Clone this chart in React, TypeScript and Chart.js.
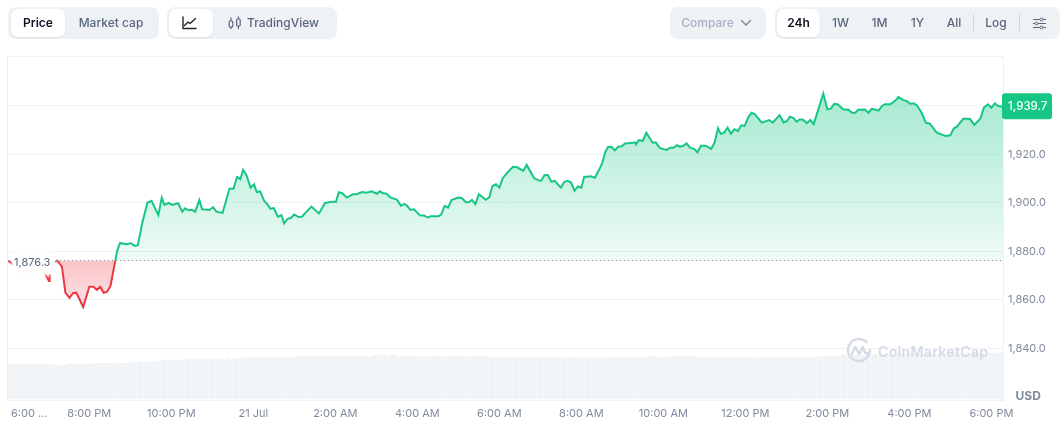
import React, { useEffect, useRef } from "react";
import { Chart, registerables } from "chart.js";

Chart.register(...registerables);

const baseline = 1876.3;
const latest = 1939.7;

// minutes since the start of the 24h window
const minutes = [
  0,3,10,15,25,35,40,50,54,60,61,64,66,72,79,84,90,95,100,110,119,125,130,135,140,145,150,157,160,164,
  173,180,185,190,196,204,210,220,225,229,235,240,249,255,259,264,269,274,280,284,295,300,305,314,324,330,335,340,344,349,
  355,360,364,369,375,379,384,389,395,400,404,409,414,419,425,430,444,455,464,474,480,484,489,496,505,510,518,525,532,540,
  544,549,554,560,569,575,580,583,589,594,603,609,614,619,630,634,639,644,649,659,664,670,675,679,684,689,699,704,709,714,
  719,724,730,739,745,754,759,770,775,780,785,790,795,800,809,814,819,824,829,834,839,843,853,859,869,874,878,883,888,893,
  898,903,918,919,923,929,934,943,948,954,964,969,974,979,983,988,993,998,1004,1009,1014,1021,1029,1034,1039,1043,1048,1053,1058,1063,
  1068,1073,1078,1083,1088,1093,1103,1114,1119,1129,1135,1140,1144,1149,1154,1159,1164,1169,1174,1179,1193,1199,1204,1209,1214,1222,1230,1235,1240,1244,
  1254,1259,1264,1274,1279,1283,1291,1298,1303,1310,1315,1320,1325,1330,1337,1343,1349,1359,1372,1379,1384,1388,1398,1408,1414,1423,1428,1434,1439,1444,
  1449,1456,
];

const prices = [
  1876.1,1875.7,1873.6,1872.0,1871.1,1872.0,1872.8,1872.4,1870.8,1867.8,1869.9,1872.0,1875.3,1876.3,1873.6,1863.0,1860.9,1862.8,1863.0,1857.1,1865.5,1865.5,1864.2,1865.4,1863.0,1863.4,1865.8,1876.3,1880.5,1883.5,
  1883.0,1883.4,1882.3,1882.6,1891.2,1900.1,1900.9,1895.0,1902.2,1899.2,1900.0,1899.2,1899.9,1896.4,1897.8,1897.0,1897.2,1896.4,1901.2,1897.4,1897.1,1898.3,1896.4,1895.9,1905.9,1905.9,1910.7,1909.8,1913.6,1911.5,
  1906.3,1907.7,1904.5,1904.8,1900.8,1899.7,1897.6,1897.9,1894.3,1895.0,1891.6,1893.4,1893.9,1895.2,1894.2,1894.3,1898.5,1895.7,1900.0,1900.5,1900.5,1904.4,1904.0,1902.2,1903.6,1903.6,1904.5,1904.2,1904.8,1903.8,
  1904.8,1904.0,1903.8,1902.2,1901.4,1898.9,1899.5,1899.1,1897.1,1897.4,1894.8,1894.8,1894.0,1894.5,1894.5,1895.3,1898.8,1898.1,1901.2,1902.2,1902.1,1900.3,1900.4,1901.3,1899.5,1903.6,1901.3,1902.2,1907.0,1907.7,
  1906.3,1910.2,1912.3,1914.9,1914.7,1913.2,1915.7,1910.2,1909.5,1909.1,1911.4,1911.5,1908.8,1909.1,1906.3,1908.7,1909.1,1908.4,1905.0,1906.8,1906.3,1910.7,1911.0,1910.4,1916.0,1921.0,1923.1,1923.2,1921.7,1923.2,
  1923.4,1924.5,1924.9,1924.2,1925.9,1925.6,1929.0,1924.9,1924.9,1922.6,1921.9,1922.8,1922.8,1923.8,1923.2,1923.5,1924.6,1922.8,1922.3,1920.9,1923.6,1923.6,1922.3,1924.9,1930.8,1928.5,1929.0,1931.1,1928.6,1930.4,
  1929.6,1932.0,1931.8,1935.2,1937.2,1936.6,1933.1,1934.2,1933.1,1936.2,1933.2,1933.8,1935.6,1935.1,1933.5,1934.5,1934.2,1932.9,1934.2,1932.5,1945.1,1938.6,1938.9,1940.9,1940.7,1938.6,1938.4,1937.2,1937.2,1938.4,
  1938.5,1937.2,1938.8,1938.1,1940.0,1940.7,1940.7,1942.1,1943.7,1942.4,1942.1,1940.9,1941.1,1940.3,1937.2,1933.1,1932.7,1929.0,1927.6,1927.9,1930.8,1931.3,1934.8,1934.6,1932.2,1934.8,1939.3,1940.7,1939.3,1941.1,
  1940.0,1939.7,
];

// one bar every five minutes, in billions
const volumes = [
  9.9,10.2,10.2,10.2,10.2,10.2,10.2,10.2,10.2,10.2,10.2,10.2,9.9,10.1,9.9,9.8,9.8,9.9,10.2,10.2,
  10.2,10.2,10.2,10.2,10.2,10.4,10.4,10.4,10.4,10.4,10.4,10.4,10.2,10.4,10.4,10.5,10.5,10.8,10.8,10.8,
  10.8,11.0,10.7,11.0,11.0,11.4,11.4,11.4,11.4,11.4,11.4,11.4,11.6,11.6,11.6,11.6,11.6,11.6,11.6,11.6,
  11.6,11.6,11.6,11.6,11.9,11.4,11.6,11.9,11.9,11.9,11.9,12.2,12.2,12.2,12.2,12.2,12.2,12.2,12.2,12.2,
  12.2,12.2,12.2,12.2,12.2,12.4,12.4,12.4,12.4,12.4,12.4,12.4,12.4,12.4,12.4,12.4,12.4,12.4,12.4,12.4,
  12.4,12.4,12.4,12.4,12.4,12.4,12.4,12.8,12.8,12.8,12.8,12.4,12.8,12.8,12.4,12.4,12.4,12.4,12.4,12.4,
  12.2,12.4,12.4,12.2,12.2,12.4,12.4,12.4,12.2,12.4,12.4,12.4,12.2,12.4,12.4,12.2,12.4,12.5,12.5,12.5,
  12.5,12.2,12.2,12.2,12.2,12.2,12.2,12.2,12.2,12.2,12.2,12.2,12.2,12.2,12.2,12.2,12.2,12.2,12.2,12.2,
  11.9,12.2,12.2,11.9,12.2,12.2,11.9,11.9,11.9,11.9,11.9,11.9,11.9,11.9,11.9,11.9,12.2,12.2,12.2,12.2,
  12.2,12.2,12.2,12.2,12.2,12.2,12.2,12.2,12.5,12.5,12.2,12.2,12.2,12.2,12.4,12.4,12.4,12.4,12.4,12.4,
  12.4,12.2,12.2,12.2,12.2,12.2,12.2,12.2,12.2,12.2,12.2,12.2,12.2,12.2,12.2,12.2,12.2,12.2,11.9,11.9,
  12.2,12.2,12.2,12.2,12.2,12.2,12.2,12.2,12.2,12.2,12.2,12.2,12.2,12.2,12.2,12.2,12.2,12.2,12.5,12.5,
  12.5,12.5,12.5,12.5,12.8,12.8,12.8,12.8,12.8,12.8,12.8,13.0,13.0,13.0,13.0,13.0,13.0,13.0,13.0,13.1,
  13.1,13.1,13.1,13.1,13.1,13.1,13.1,13.1,13.1,13.1,13.1,13.1,13.1,13.1,13.1,13.1,13.4,13.4,13.4,13.4,
  13.4,13.4,13.4,13.4,13.4,13.4,13.4,13.4,13.4,13.4,13.4,13.6,
];

const priceTicks = [1840, 1860, 1880, 1900, 1920, 1940];
const timeTicks = [31, 119, 239, 359, 479, 599, 719, 839, 959, 1079, 1199, 1319, 1439];
const timeLabels = ["6:00 ...", "8:00 PM", "10:00 PM", "21 Jul", "2:00 AM", "4:00 AM", "6:00 AM", "8:00 AM", "10:00 AM", "12:00 PM", "2:00 PM", "4:00 PM", "6:00 PM"];

const FONT = "Inter, 'Noto Sans', sans-serif";
const GREEN = "#16c784";
const RED = "#ea3943";
const GRID = "#eff2f5";

const overlays = {
  id: "overlays",
  beforeDraw(chart: any) {
    const { ctx, chartArea: a } = chart;
    ctx.save();
    ctx.strokeStyle = GRID;
    ctx.lineWidth = 1;
    ctx.strokeRect(a.left - 0.5, a.top + 0.5, a.right - a.left + 1, a.bottom - a.top);
    ctx.restore();
  },
  afterDatasetsDraw(chart: any) {
    const { ctx, chartArea: a, scales } = chart;
    const yBase = Math.floor(scales.y.getPixelForValue(baseline)) + 0.5;
    ctx.save();
    ctx.strokeStyle = "#7c8698";
    ctx.lineWidth = 1;
    ctx.setLineDash([1, 3]);
    ctx.beginPath();
    ctx.moveTo(a.left, yBase);
    ctx.lineTo(a.right, yBase);
    ctx.stroke();
    ctx.setLineDash([]);
    // faded plate behind the baseline label
    ctx.shadowColor = "rgba(255,255,255,0.95)";
    ctx.shadowBlur = 4;
    ctx.fillStyle = "rgba(255,255,255,0.88)";
    ctx.fillRect(a.left + 4, yBase - 9, 43, 23);
    ctx.shadowBlur = 0;
    ctx.fillStyle = "#58667e";
    ctx.font = `400 11px ${FONT}`;
    ctx.textAlign = "left";
    ctx.textBaseline = "middle";
    ctx.fillText(baseline.toFixed(1).replace(/^(\d)(\d{3})/, "$1,$2"), a.left + 6, yBase + 2);
    ctx.restore();
  },
  afterDraw(chart: any) {
    const { ctx, chartArea: a, scales } = chart;
    const yLast = scales.y.getPixelForValue(latest);
    ctx.save();
    ctx.fillStyle = GREEN;
    ctx.beginPath();
    ctx.roundRect(a.right - 1, yLast - 13.5, 50, 26, 3);
    ctx.fill();
    ctx.fillStyle = "#ffffff";
    ctx.font = `500 11.5px ${FONT}`;
    ctx.textAlign = "left";
    ctx.textBaseline = "middle";
    ctx.fillText(latest.toFixed(1).replace(/^(\d)(\d{3})/, "$1,$2"), a.right + 5, yLast);
    ctx.fillStyle = "#808a9d";
    ctx.font = `700 12px ${FONT}`;
    ctx.fillText("USD", a.right + 12.5, a.bottom - 3.5);
    ctx.restore();
  },
};

function Tab({ x, w, label, active, color, bold }: any) {
  return (
    <div
      style={{
        position: "absolute",
        left: x,
        top: 9,
        width: w,
        height: 28,
        lineHeight: "28px",
        textAlign: "center",
        borderRadius: 7,
        background: active ? "#fff" : "transparent",
        boxShadow: active ? "0 1px 2px rgba(88,102,126,0.12)" : "none",
        color: color || (active ? "#0d1421" : "#58667e"),
        fontWeight: bold || active ? 600 : 500,
        fontSize: 12,
      }}
    >
      {label}
    </div>
  );
}

function Group({ x, w }: any) {
  return <div style={{ position: "absolute", left: x, top: 7, width: w, height: 32, background: "#eff2f5", borderRadius: 8 }} />;
}

function Divider({ x }: any) {
  return <div style={{ position: "absolute", left: x, top: 14, width: 1, height: 17, background: "#cfd6e4" }} />;
}

export default function App() {
  const ref = useRef<HTMLCanvasElement>(null);

  useEffect(() => {
    const canvas = ref.current!;
    const ctx = canvas.getContext("2d")!;
    const above = ctx.createLinearGradient(0, 93, 0, 260);
    above.addColorStop(0, "rgba(22,199,132,0.38)");
    above.addColorStop(1, "rgba(22,199,132,0.07)");
    const below = ctx.createLinearGradient(0, 260, 0, 306);
    below.addColorStop(0, "rgba(234,57,67,0.30)");
    below.addColorStop(1, "rgba(234,57,67,0.14)");

    const chart = new Chart(ctx, {
      type: "line",
      data: {
        datasets: [
          {
            type: "line",
            data: minutes.map((m, i) => ({ x: m, y: prices[i] })),
            yAxisID: "y",
            borderColor: GREEN,
            borderWidth: 2,
            pointRadius: 0,
            tension: 0,
            order: 1,
            fill: { target: { value: baseline }, above, below },
            segment: {
              borderColor: (c: any) => (c.p0.parsed.y < baseline || c.p1.parsed.y < baseline ? RED : GREEN),
            },
          },
          {
            type: "bar",
            data: volumes.map((v, i) => ({ x: i * 5 + 1, y: v })),
            yAxisID: "vol",
            backgroundColor: "#f1f4f7",
            barThickness: 2.6,
            order: 2,
          },
        ],
      } as any,
      options: {
        animation: false,
        responsive: false,
        parsing: false as any,
        layout: { padding: { left: 8, top: 56, right: 0, bottom: 0 } },
        plugins: { legend: { display: false }, tooltip: { enabled: false } },
        scales: {
          x: {
            type: "linear",
            min: 0,
            max: 1456,
            offset: false,
            grid: { display: false },
            border: { display: false },
            afterBuildTicks: (s: any) => {
              s.ticks = timeTicks.map((value) => ({ value }));
            },
            afterFit: (s: any) => {
              s.height = 27;
            },
            ticks: {
              autoSkip: false,
              maxRotation: 0,
              padding: -1,
              color: "#808a9d",
              font: { family: FONT, size: 11 },
              callback: (v: any) => timeLabels[timeTicks.indexOf(v)],
            },
          },
          y: {
            position: "right",
            min: 1818.76,
            max: 1960.6,
            grid: { color: GRID, drawTicks: false },
            border: { display: false },
            afterBuildTicks: (s: any) => {
              s.ticks = priceTicks.map((value) => ({ value }));
            },
            afterFit: (s: any) => {
              s.width = 59;
            },
            ticks: {
              padding: 5,
              color: "#808a9d",
              font: { family: FONT, size: 11 },
              callback: (v: any) => Number(v).toLocaleString("en-US", { minimumFractionDigits: 1 }),
            },
          },
          vol: { display: false, min: -0.3, max: 100 },
        },
      },
      plugins: [overlays],
    } as any);
    return () => chart.destroy();
  }, []);

  return (
    <div style={{ position: "absolute", left: 0, top: 0, width: 1062, height: 427, overflow: "hidden", fontFamily: FONT, background: "#fff" }}>
      <canvas ref={ref} width={1062} height={427} style={{ position: "absolute", left: 0, top: 0, width: 1062, height: 427 }} />

      <Group x={8} w={151} />
      <Tab x={11} w={54} label="Price" active />
      <Tab x={65} w={92} label="Market cap" />

      <Group x={167} w={170} />
      <Tab x={169} w={44} label="" active />
      <svg style={{ position: "absolute", left: 182, top: 16 }} width="15" height="14" viewBox="0 0 15 14" fill="none" stroke="#222531" strokeWidth="1.4" strokeLinecap="round" strokeLinejoin="round">
        <path d="M1 1v11.5h13" />
        <path d="M2.5 9.5 6 6l2 1.5L13.5 2.5" />
      </svg>
      <svg style={{ position: "absolute", left: 228, top: 16 }} width="14" height="14" viewBox="0 0 14 14" fill="none" stroke="#58667e" strokeWidth="1.2">
        <rect x="1.2" y="5" width="3.6" height="6" rx="1" />
        <path d="M3 1.5V5M3 11v2" />
        <rect x="8.6" y="3" width="3.6" height="7" rx="1" />
        <path d="M10.4 0.5V3M10.4 10v3" />
      </svg>
      <Tab x={245} w={76} label="TradingView" />

      <Group x={670} w={96} />
      <Tab x={680} w={55} label="Compare" color="#a6b0c3" />
      <svg style={{ position: "absolute", left: 740, top: 19 }} width="12" height="8" viewBox="0 0 12 8" fill="none" stroke="#808a9d" strokeWidth="1.4" strokeLinecap="round" strokeLinejoin="round">
        <path d="M1.5 1.5 6 6l4.5-4.5" />
      </svg>

      <Group x={775} w={285} />
      <Tab x={777} w={43} label="24h" active />
      <Tab x={825} w={31} label="1W" />
      <Tab x={864} w={31} label="1M" />
      <Tab x={902} w={31} label="1Y" />
      <Tab x={939} w={30} label="All" />
      <Divider x={973} />
      <Tab x={980} w={32} label="Log" />
      <Divider x={1019} />
      <svg style={{ position: "absolute", left: 1033, top: 17 }} width="13" height="13" viewBox="0 0 13 13" fill="none" stroke="#58667e" strokeWidth="1">
        <path d="M0 2.5h7M10 2.5h3M0 6.5h2M5 6.5h8M0 10.5h7M10 10.5h3" />
        <circle cx="8.5" cy="2.5" r="1.5" />
        <circle cx="3.5" cy="6.5" r="1.5" />
        <circle cx="8.5" cy="10.5" r="1.5" />
      </svg>

      <svg style={{ position: "absolute", left: 846, top: 337 }} width="26" height="26" viewBox="0 0 26 26" fill="none" stroke="#d5dbe6" strokeWidth="2.4" strokeLinecap="round" strokeLinejoin="round">
        <path d="M24 13a11 11 0 1 1-3.2-7.8" />
        <path d="M6 17l3.2-7 4 7 3.6-7 2.2 5.5c1.5 1 3.5.5 5-1" />
      </svg>
      <div style={{ position: "absolute", left: 878, top: 342, height: 20, lineHeight: "20px", fontSize: 14.2, fontWeight: 600, color: "#d5dbe6", letterSpacing: 0.25 }}>CoinMarketCap</div>
    </div>
  );
}
